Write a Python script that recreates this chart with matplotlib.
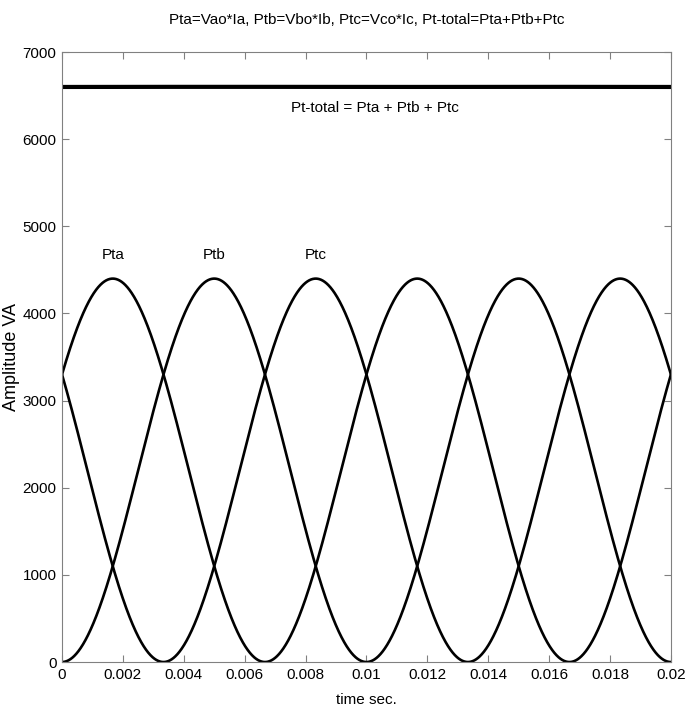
import numpy as np
import matplotlib
matplotlib.use("Agg")
import matplotlib.pyplot as plt

plt.rcParams['font.family'] = ['Liberation Sans', 'DejaVu Sans']

# values
phase_names = ["Pta", "Ptb", "Ptc"]
peak_power = 4400.0          # VA, peak of each phase power
peak_times = [0.001667, 0.005, 0.008333]   # sec, first peak of each phase
power_period = 0.01          # sec (2 x 50 Hz)
t_end = 0.02

t = np.linspace(0, t_end, 2001)
curves = []
for tp in peak_times:
    curves.append(peak_power / 2 * (1 + np.cos(2 * np.pi * (t - tp) / power_period)))
total = curves[0] + curves[1] + curves[2]

fig = plt.figure(figsize=(6.86, 7.07), dpi=100)
ax = fig.add_axes([0.0904, 0.0636, 0.8876, 0.8628])

for c in curves:
    ax.plot(t, c, color='black', lw=1.9)
ax.plot(t, total, color='black', lw=3.0)

ax.set_xlim(0, t_end)
ax.set_ylim(0, 7000)
ax.set_xticks(np.arange(0, 0.0201, 0.002))
ax.set_xticklabels(['0', '0.002', '0.004', '0.006', '0.008', '0.01', '0.012',
                    '0.014', '0.016', '0.018', '0.02'])
ax.set_yticks(np.arange(0, 7001, 1000))

ax.tick_params(direction='in', length=5, top=True, right=True, labelsize=11,
               color='#808080', pad=4)
for s in ax.spines.values():
    s.set_color('#808080')
    s.set_linewidth(0.8)

label_y = 4670
for name, tp in zip(phase_names, peak_times):
    ax.text(tp, label_y, name, ha='center', va='center', fontsize=11)
ax.text(0.01028, 6357, "Pt-total = Pta + Ptb + Ptc", ha='center', va='center', fontsize=11)

ax.set_title("Pta=Vao*Ia, Ptb=Vbo*Ib, Ptc=Vco*Ic, Pt-total=Pta+Ptb+Ptc",
             fontsize=11, pad=20)
ax.set_xlabel("time sec.", fontsize=11, labelpad=8)
ax.set_ylabel("Amplitude VA", fontsize=13, labelpad=2)

fig.savefig("out.png", dpi=100)
